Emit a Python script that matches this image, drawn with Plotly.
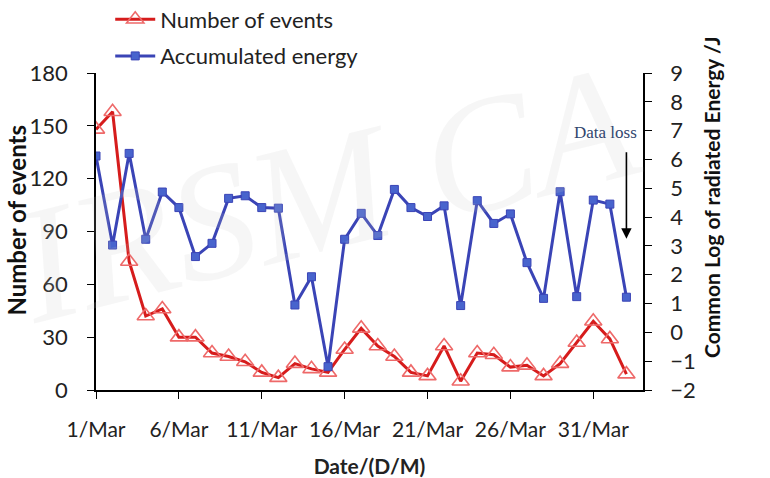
import pandas as pd
import plotly.graph_objects as go

# Daily observations, 1 March to 2 April
dates = pd.date_range("2023-03-01", periods=33, freq="D")

events = [148, 158, 73, 42, 46, 30, 30, 21, 19, 16, 10, 7, 15, 12, 10,
          23, 35, 25, 19, 10, 8, 25, 5, 21, 20, 13, 14, 8, 15, 27, 39,
          29, 9]

log_energy = [6.12, 3.03, 6.21, 3.23, 4.87, 4.33, 2.63, 3.09, 4.65, 4.74,
              4.33, 4.31, 0.95, 1.93, -1.19, 3.23, 4.13, 3.36, 4.96, 4.33,
              4.02, 4.39, 0.93, 4.57, 3.78, 4.11, 2.42, 1.18, 4.88, 1.24,
              4.59, 4.45, 1.22]

left_ticks = [0, 30, 60, 90, 120, 150, 180]
right_ticks = list(range(-2, 10))

font_main = "Lato, 'Open Sans', sans-serif"

fig = go.Figure()

fig.add_trace(go.Scatter(
    x=dates, y=events, name="Number of events", mode="lines+markers",
    line=dict(color="rgb(214,28,28)", width=3),
    marker=dict(symbol="triangle-up-open", size=15,
                color="rgb(238,105,105)", line=dict(width=1.6)),
    legendgroup="a",
))

fig.add_trace(go.Scatter(
    x=dates, y=log_energy, name="Accumulated energy", mode="lines+markers",
    yaxis="y2",
    line=dict(color="rgb(58,68,182)", width=3),
    marker=dict(symbol="square", size=8, color="rgb(72,100,205)",
                line=dict(color="rgb(58,68,182)", width=1)),
    legendgroup="b",
))

# faint watermark
fig.add_annotation(
    text="IRSM CA", xref="paper", yref="paper", x=0.42, y=0.62,
    showarrow=False, textangle=-14,
    font=dict(family="'Liberation Serif', serif", size=165,
              color="rgba(200,200,200,0.16)", style="italic"),
)

# data-loss marker
fig.add_annotation(
    x=dates[32], y=3.25, yref="y2", ax=0, ay=-88,
    showarrow=True, arrowhead=2, arrowsize=1.3, arrowwidth=1.6,
    arrowcolor="black", text="", standoff=0,
)
fig.add_annotation(
    x=dates[30], y=7.0, yref="y2", xanchor="center", yanchor="middle",
    text="Data loss", showarrow=False, xshift=12, yshift=-2,
    font=dict(family="'Liberation Serif', serif", size=17,
              color="rgb(50,70,110)"),
)

# axis titles placed beside the two value axes
fig.add_annotation(
    text="<b>Number of events</b>", xref="paper", yref="paper",
    x=-0.146, y=0.535, textangle=-90, showarrow=False,
    xanchor="center", yanchor="middle",
    font=dict(family=font_main, size=24, color="#111"),
)
fig.add_annotation(
    text="<b>Common Log of radiated Energy /J</b>", xref="paper", yref="paper",
    x=1.125, y=0.61, textangle=-90, showarrow=False,
    xanchor="center", yanchor="middle",
    font=dict(family=font_main, size=21, color="#111"),
)

fig.update_layout(
    width=770, height=478,
    margin=dict(l=96, r=127, t=73, b=88, autoexpand=False),
    paper_bgcolor="white", plot_bgcolor="white",
    font=dict(family=font_main, size=22, color="#222"),
    showlegend=True,
    legend=dict(
        x=0.026, y=1.235, xanchor="left", yanchor="top",
        bgcolor="rgba(0,0,0,0)", itemwidth=40,
        font=dict(size=22, color="#222"), tracegroupgap=5,
    ),
    xaxis=dict(
        type="date", range=[dates[0], dates[0] + pd.Timedelta(days=33)],
        tick0=dates[0], dtick=5 * 86400000, tickformat="%-d/%b",
        tickangle=0,
        showline=True, linecolor="black", linewidth=1.5,
        ticks="outside", ticklen=7, tickcolor="black",
        ticklabelstandoff=13, showgrid=False, zeroline=False,
        tickfont=dict(size=21),
        title=dict(text="<b>Date/(D/M)</b>", font=dict(size=21), standoff=19),
    ),
    yaxis=dict(
        range=[0, 180], tickvals=left_ticks,
        showline=True, linecolor="black", linewidth=1.5,
        ticks="outside", ticklen=7, tickcolor="black",
        ticklabelstandoff=15, showgrid=False, zeroline=False,
        tickfont=dict(size=22),
    ),
    yaxis2=dict(
        range=[-2, 9], tickvals=right_ticks, overlaying="y", side="right",
        showline=True, linecolor="black", linewidth=1.5,
        ticks="outside", ticklen=7, tickcolor="black",
        ticklabelstandoff=14, showgrid=False, zeroline=False,
        tickfont=dict(size=22),
    ),
)

fig.write_html("out.html")
